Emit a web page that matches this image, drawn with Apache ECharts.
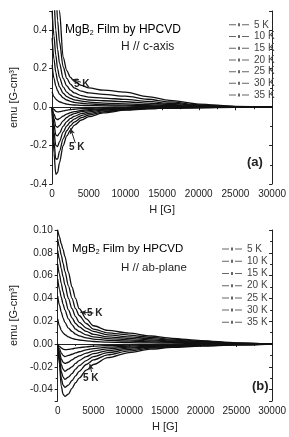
<!DOCTYPE html>
<html>
<head>
<meta charset="utf-8">
<script src="https://cdn.jsdelivr.net/npm/echarts@6/dist/echarts.min.js"></script>
<style>
html, body { margin: 0; padding: 0; background: #fff; }
#chart { width: 289px; height: 437px; }
</style>
</head>
<body>
<div id="chart"></div>
<script>
// field values shared by every curve
const fieldH = [0, 250, 500, 750, 1000, 1500, 2000, 2500, 3000, 4000, 5000, 7000, 10000, 13000, 16000, 20000, 25000, 30000]
const temps = ['5 K', '10 K', '15 K', '20 K', '25 K', '30 K', '35 K']

// (a) H // c-axis, decreasing field branch
const cUp5 = [1.6, 1.3, 1.0, 0.75, 0.5, 0.26, 0.19, 0.155, 0.135, 0.113, 0.1, 0.088, 0.078, 0.055, 0.035, 0.016, 0.004, 0.001]
const cUp10 = [1.2, 0.9, 0.62, 0.45, 0.34, 0.21, 0.15, 0.12, 0.1, 0.083, 0.074, 0.066, 0.057, 0.041, 0.027, 0.012, 0.003, 0]
const cUp15 = [0.8, 0.55, 0.4, 0.3, 0.23, 0.15, 0.11, 0.088, 0.074, 0.06, 0.052, 0.047, 0.04, 0.03, 0.02, 0.009, 0.002, 0]
const cUp20 = [0.5, 0.37, 0.27, 0.2, 0.155, 0.105, 0.078, 0.063, 0.053, 0.043, 0.037, 0.033, 0.028, 0.021, 0.014, 0.0065, 0.0015, 0]
const cUp25 = [0.36, 0.25, 0.18, 0.135, 0.105, 0.072, 0.055, 0.045, 0.038, 0.031, 0.026, 0.021, 0.017, 0.013, 0.009, 0.004, 0.001, 0]
const cUp30 = [0.22, 0.15, 0.11, 0.085, 0.068, 0.048, 0.037, 0.03, 0.025, 0.02, 0.017, 0.013, 0.01, 0.007, 0.005, 0.0025, 0.0007, 0]
const cUp35 = [0.08, 0.055, 0.042, 0.034, 0.028, 0.021, 0.016, 0.013, 0.011, 0.009, 0.008, 0.0065, 0.005, 0.0035, 0.0025, 0.0012, 0.0003, 0]
// (a) increasing field branch
const cLo5 = [0, -0.24, -0.35, -0.34, -0.29, -0.2, -0.15, -0.12, -0.095, -0.067, -0.05, -0.03, -0.016, -0.009, -0.005, -0.003, -0.001, 0]
const cLo10 = [0, -0.18, -0.27, -0.27, -0.23, -0.165, -0.123, -0.097, -0.078, -0.055, -0.041, -0.025, -0.013, -0.0075, -0.0045, -0.0025, -0.001, 0]
const cLo15 = [0, -0.13, -0.2, -0.205, -0.18, -0.13, -0.098, -0.077, -0.062, -0.044, -0.033, -0.02, -0.011, -0.0065, -0.004, -0.002, -0.001, 0]
const cLo20 = [0, -0.09, -0.145, -0.15, -0.135, -0.1, -0.075, -0.059, -0.048, -0.034, -0.025, -0.015, -0.0085, -0.005, -0.0035, -0.002, -0.001, 0]
const cLo25 = [0, -0.06, -0.1, -0.105, -0.096, -0.072, -0.054, -0.042, -0.034, -0.024, -0.018, -0.011, -0.0065, -0.004, -0.003, -0.0015, -0.0005, 0]
const cLo30 = [0, -0.035, -0.06, -0.065, -0.06, -0.047, -0.036, -0.029, -0.024, -0.017, -0.013, -0.008, -0.005, -0.003, -0.002, -0.001, 0, 0]
const cLo35 = [0, -0.012, -0.022, -0.025, -0.024, -0.02, -0.016, -0.013, -0.011, -0.008, -0.006, -0.004, -0.0025, -0.0015, -0.001, -0.0005, 0, 0]

// (b) H // ab-plane
const abUp5 = [0.100, 0.094, 0.088, 0.083, 0.077, 0.063, 0.050, 0.040, 0.031, 0.022, 0.016, 0.012, 0.0095, 0.007, 0.005, 0.003, 0.001, 0]
const abUp10 = [0.092, 0.085, 0.078, 0.071, 0.064, 0.051, 0.040, 0.031, 0.025, 0.018, 0.013, 0.0098, 0.0078, 0.0058, 0.0042, 0.0025, 0.0008, 0]
const abUp15 = [0.082, 0.074, 0.066, 0.059, 0.052, 0.040, 0.031, 0.024, 0.019, 0.014, 0.011, 0.008, 0.0063, 0.0047, 0.0034, 0.002, 0.0006, 0]
const abUp20 = [0.070, 0.061, 0.053, 0.046, 0.040, 0.030, 0.023, 0.018, 0.015, 0.011, 0.0085, 0.0063, 0.005, 0.0037, 0.0027, 0.0016, 0.0005, 0]
const abUp25 = [0.057, 0.048, 0.041, 0.035, 0.030, 0.022, 0.017, 0.013, 0.011, 0.008, 0.0063, 0.0047, 0.0037, 0.0028, 0.002, 0.0012, 0.0004, 0]
const abUp30 = [0.042, 0.034, 0.028, 0.023, 0.019, 0.014, 0.011, 0.0087, 0.0072, 0.0054, 0.0043, 0.0032, 0.0025, 0.0019, 0.0014, 0.0008, 0.0003, 0]
const abUp35 = [0.022, 0.016, 0.012, 0.0098, 0.0082, 0.0062, 0.005, 0.0041, 0.0035, 0.0027, 0.0022, 0.0016, 0.0012, 0.0009, 0.0007, 0.0004, 0.0001, 0]
const abLo5 = [0, -0.018, -0.037, -0.044, -0.046, -0.044, -0.039, -0.034, -0.030, -0.023, -0.018, -0.012, -0.0075, -0.0045, -0.003, -0.0018, -0.0008, 0]
const abLo10 = [0, -0.015, -0.030, -0.036, -0.038, -0.036, -0.032, -0.028, -0.024, -0.018, -0.014, -0.0095, -0.006, -0.0037, -0.0025, -0.0015, -0.0007, 0]
const abLo15 = [0, -0.012, -0.024, -0.029, -0.031, -0.029, -0.026, -0.022, -0.019, -0.0145, -0.011, -0.0075, -0.0048, -0.003, -0.002, -0.0012, -0.0006, 0]
const abLo20 = [0, -0.009, -0.018, -0.022, -0.024, -0.022, -0.020, -0.017, -0.0145, -0.011, -0.0085, -0.0058, -0.0037, -0.0024, -0.0016, -0.001, -0.0005, 0]
const abLo25 = [0, -0.007, -0.013, -0.016, -0.017, -0.016, -0.014, -0.012, -0.0105, -0.008, -0.0062, -0.0042, -0.0027, -0.0018, -0.0012, -0.0008, -0.0004, 0]
const abLo30 = [0, -0.004, -0.008, -0.010, -0.011, -0.010, -0.009, -0.0078, -0.0068, -0.0052, -0.004, -0.0028, -0.0018, -0.0012, -0.0008, -0.0005, -0.0003, 0]
const abLo35 = [0, -0.002, -0.0035, -0.0045, -0.005, -0.0047, -0.0042, -0.0037, -0.0032, -0.0025, -0.0019, -0.0013, -0.0009, -0.0006, -0.0004, -0.0003, -0.0001, 0]

const cUp = [cUp5, cUp10, cUp15, cUp20, cUp25, cUp30, cUp35]
const cLo = [cLo5, cLo10, cLo15, cLo20, cLo25, cLo30, cLo35]
const abUp = [abUp5, abUp10, abUp15, abUp20, abUp25, abUp30, abUp35]
const abLo = [abLo5, abLo10, abLo15, abLo20, abLo25, abLo30, abLo35]

// arrows for the "5 K" notes: [from, to] in data units
const arrowCUp = [[3920, 0.13], [2660, 0.145]]
const arrowCLo = [[3160, -0.187], [2500, -0.11]]
const arrowAbUp = [[5000, 0.0272], [3170, 0.0278]]
const arrowAbLo = [[4740, -0.0246], [4490, -0.0175]]

const FONT = 'Liberation Sans, Arial, sans-serif'
const INK = '#222'
const legendIcon = 'path://M0,1h7v1h-7z M9,0h2v3h-2z M13,1h7v1h-7z'

const chartInstance = echarts.init(document.getElementById('chart'))

function makeArrow(pair) {
    return {
        silent: true,
        symbol: ['none', 'arrow'],
        symbolSize: [4, 6],
        lineStyle: { color: INK, width: 1, type: 'solid' },
        label: { show: false },
        emphasis: { disabled: true },
        data: [[{ coord: pair[0] }, { coord: pair[1] }]]
    }
}

function curve(name, vals, axisIdx, arrow) {
    const s = {
        type: 'line',
        name: name,
        xAxisIndex: axisIdx,
        yAxisIndex: axisIdx,
        data: fieldH.map((h, i) => [h, vals[i]]),
        smooth: 0.3,
        smoothMonotone: 'x',
        symbol: 'circle',
        symbolSize: 2,
        showSymbol: false,
        lineStyle: { color: '#111', width: 1.3 },
        itemStyle: { color: '#111' },
        clip: true,
        silent: true
    }
    if (arrow) s.markLine = makeArrow(arrow)
    return s
}

const seriesArr = []
temps.forEach((t, i) => {
    seriesArr.push(curve(t, cUp[i], 0, i === 0 ? arrowCUp : null))
    seriesArr.push(curve(t, cLo[i], 0, i === 0 ? arrowCLo : null))
    seriesArr.push(curve(t, abUp[i], 2, i === 0 ? arrowAbUp : null))
    seriesArr.push(curve(t, abLo[i], 2, i === 0 ? arrowAbLo : null))
})

function xAxisOf(grid, mirror) {
    return {
        type: 'value',
        gridIndex: grid,
        position: mirror ? 'top' : 'bottom',
        min: 0,
        max: 30000,
        interval: 5000,
        name: mirror ? '' : 'H [G]',
        nameLocation: 'middle',
        nameGap: 20,
        nameTextStyle: { fontFamily: FONT, fontSize: 11, color: INK },
        axisLine: { show: true, lineStyle: { color: INK, width: 1 } },
        axisTick: { show: true, inside: !!mirror, length: 3, lineStyle: { color: INK } },
        minorTick: { show: true, splitNumber: 2, length: 2, lineStyle: { color: INK } },
        axisLabel: {
            show: !mirror,
            margin: 5,
            fontFamily: FONT,
            fontSize: 10,
            color: INK,
            formatter: (v) => String(v)
        },
        splitLine: { show: false }
    }
}

function yAxisOf(grid, mirror, conf) {
    const ax = {
        type: 'value',
        gridIndex: grid,
        position: mirror ? 'right' : 'left',
        min: conf.min,
        max: conf.max,
        name: mirror ? '' : 'emu [G-cm³]',
        nameLocation: 'middle',
        nameGap: conf.nameGap,
        nameTextStyle: { fontFamily: FONT, fontSize: 11, color: INK },
        axisLine: { show: true, onZero: false, lineStyle: { color: INK, width: 1 } },
        axisTick: { show: true, inside: !!mirror, length: 3, lineStyle: { color: INK } },
        minorTick: { show: true, splitNumber: 2, length: 2, lineStyle: { color: INK } },
        axisLabel: {
            show: !mirror,
            margin: 5,
            fontFamily: FONT,
            fontSize: 10,
            color: INK,
            showMinLabel: conf.showMin,
            showMaxLabel: conf.showMax,
            formatter: (v) => v.toFixed(conf.digits)
        },
        splitLine: { show: false }
    }
    if (conf.interval) ax.interval = conf.interval
    if (conf.splitNumber) ax.splitNumber = conf.splitNumber
    return ax
}

const yConfA = { min: -0.4, max: 0.5, interval: 0.2, digits: 1, nameGap: 26, showMin: true, showMax: false }
const yConfB = { min: -0.05, max: 0.1, splitNumber: 7, digits: 2, nameGap: 30, showMin: false, showMax: true }

function legendOf(left, top, lineH) {
    return {
        left: left,
        top: top,
        padding: 0,
        orient: 'vertical',
        data: temps,
        icon: legendIcon,
        itemWidth: 20,
        itemHeight: 3,
        itemGap: 0,
        selectedMode: false,
        itemStyle: { color: '#666' },
        lineStyle: { width: 0 },
        textStyle: { fontFamily: FONT, fontSize: 10, color: '#444', lineHeight: lineH }
    }
}

function titleText(x, y, size) {
    return {
        type: 'text',
        left: x,
        top: y,
        silent: true,
        style: {
            text: '{a|MgB}{s|2}{a| Film by HPCVD}',
            rich: {
                a: { fontFamily: FONT, fontSize: size, color: INK, lineHeight: 14 },
                s: { fontFamily: FONT, fontSize: 7, color: INK, lineHeight: 14, padding: [7, 0, 0, 0] }
            }
        }
    }
}

function plainText(x, y, text, size, weight) {
    return {
        type: 'text',
        left: x,
        top: y,
        silent: true,
        style: { text: text, fontFamily: FONT, fontSize: size, fontWeight: weight || 'normal', fill: INK }
    }
}

const option = {
    animation: false,
    backgroundColor: '#fff',
    grid: [
        { left: 42, right: 11, top: 11, height: 173 },
        { left: 46, right: 11, top: 230, height: 171 }
    ],
    xAxis: [xAxisOf(0, false), xAxisOf(0, true), xAxisOf(1, false), xAxisOf(1, true)],
    yAxis: [yAxisOf(0, false, yConfA), yAxisOf(0, true, yConfA), yAxisOf(1, false, yConfB), yAxisOf(1, true, yConfB)],
    legend: [legendOf(229, 19, 11.7), legendOf(222, 243, 12.2)],
    graphic: [
        titleText(65, 23, 12),
        plainText(121, 41, 'H // c-axis', 12),
        titleText(72, 242, 11.5),
        plainText(121, 262, 'H // ab-plane', 11.5),
        plainText(74, 79, '5 K', 10, 'bold'),
        plainText(69, 142, '5 K', 10, 'bold'),
        plainText(87, 308, '5 K', 10, 'bold'),
        plainText(83, 373, '5 K', 10, 'bold'),
        plainText(247, 156, '(a)', 13, 'bold'),
        plainText(252, 380, '(b)', 13, 'bold')
    ],
    series: seriesArr
}

chartInstance.setOption(option)
</script>
</body>
</html>
